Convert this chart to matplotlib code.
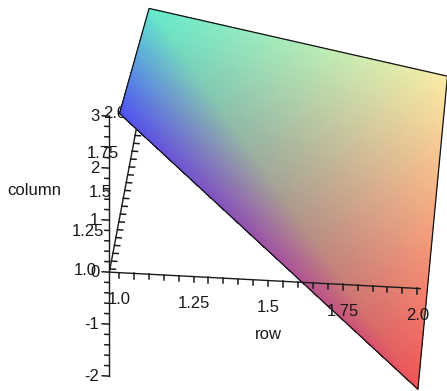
import numpy as np
import matplotlib
matplotlib.use("Agg")
import matplotlib.pyplot as plt
from mpl_toolkits.mplot3d import proj3d

# 2x2 matrix plotted by maple: values[row-1][col-1]
rows = [1, 2]
cols = [1, 2]
values = [[3, 2],
          [-2, 1]]
# vertex colours (same layout as values)
corner_rgb = [[(80, 82, 240), (100, 235, 205)],
              [(240, 82, 85), (250, 236, 165)]]

row_labels = ["1.0", "1.25", "1.5", "1.75", "2.0"]
col_labels = ["1.0", "1.25", "1.5", "1.75", "2.0"]
z_labels = ["-2", "-1", "0", "1", "2", "3"]

W, H = 447, 391
ink = "#1a1a1a"
plt.rcParams["font.family"] = ["Liberation Sans", "DejaVu Sans"]
fs = 12

# maple's axes cross a little outside the data box
r0, c0 = 0.968, 0.98

fig = plt.figure(figsize=(W / 100, H / 100), dpi=100)
ax = fig.add_axes([-0.5, -0.5, 2, 2], projection="3d", proj_type="ortho",
                  computed_zorder=False)
ax.view_init(elev=32.0, azim=-84.3, roll=0)
ax.set_xlim(rows[0], rows[-1])
ax.set_ylim(cols[0], cols[-1])
ax.set_zlim(-2, 3)
aspect = (300, 298, 306.7)
ax.set_box_aspect(aspect)
ax.set_axis_off()


# maple renders the cell as two triangles cut along the (1,2)-(2,1) diagonal
def two_triangles(q, u, v):
    q = np.asarray(q, dtype=float)
    if q.ndim == 3:
        u = u[..., None]
        v = v[..., None]
    lower = q[0, 0] + u * (q[1, 0] - q[0, 0]) + v * (q[0, 1] - q[0, 0])
    upper = q[1, 1] + (1 - u) * (q[0, 1] - q[1, 1]) + (1 - v) * (q[1, 0] - q[1, 1])
    return np.where(u + v <= 1, lower, upper)


n = 61
t = np.linspace(0, 1, n)
U, V = np.meshgrid(t, t, indexing="ij")
X = rows[0] + U * (rows[1] - rows[0])
Y = cols[0] + V * (cols[1] - cols[0])
Z = two_triangles(values, U, V)
h = 0.5 / (n - 1)
FC = two_triangles(corner_rgb, np.clip(U + h, 0, 1), np.clip(V + h, 0, 1)) / 255.0

# column axis sits behind the surface
ax.plot([r0, r0], [c0, 2], [0, 0], color=ink, lw=1, zorder=1)
for c in np.arange(1, 2.001, 0.05):
    ax.plot([r0, r0 + 0.018], [c, c], [0, 0], color=ink, lw=1.1, zorder=1)

ax.plot_surface(X, Y, Z, facecolors=FC, rstride=1, cstride=1, shade=False,
                linewidth=0, antialiased=False, zorder=2)

# outline of the cell
ox = [rows[0], rows[0], rows[1], rows[1], rows[0]]
oy = [cols[0], cols[1], cols[1], cols[0], cols[0]]
oz = [values[0][0], values[0][1], values[1][1], values[1][0], values[0][0]]
ax.plot(ox, oy, oz, color="#111111", lw=0.9, zorder=3)

# z axis on the left
ax.plot([r0, r0], [c0, c0], [-2, 3], color=ink, lw=1, zorder=4)
for z in np.arange(-2, 3.001, 0.2):
    major = abs(z - round(z)) < 1e-6
    ax.plot([r0 - (0.024 if major else 0.015), r0], [c0, c0], [z, z],
            color=ink, lw=1.1, zorder=4)

# row axis along the front
ax.plot([r0, 2.01], [c0, c0], [0, 0], color=ink, lw=1, zorder=4)
for r in np.arange(1, 2.001, 0.05):
    ax.plot([r, r], [c0, c0], [0, -0.1], color=ink, lw=1.1, zorder=4)


def screen(x, y, z):
    px, py, _ = proj3d.proj_transform(x, y, z, ax.M)
    return ax.transData.transform((px, py))


# fit the box so that the origin and z scale land where maple put them
fig.canvas.draw()
p0, p3 = screen(1, 1, 0), screen(1, 1, 3)
k = 3 * 52.0 / np.hypot(*(p3 - p0))
ax.set_box_aspect(aspect, zoom=k)
fig.canvas.draw()
p0 = screen(1, 1, 0)
pos = ax.get_position(original=True)
ax.set_position([pos.x0 + (119.5 - p0[0]) / W, pos.y0 + (H - 269.5 - p0[1]) / H,
                 pos.width, pos.height])
fig.canvas.draw()


def label(s, xyz, off, ha="center", zorder=5):
    ax.annotate(s, xy=screen(*xyz), xycoords="figure pixels", xytext=off,
                textcoords="offset pixels", ha=ha, va="center", fontsize=fs,
                color=ink, zorder=zorder)


for c, lab in zip(np.arange(1, 2.001, 0.25), col_labels):
    label(lab, (r0, c, 0), (-13, -2), ha="right", zorder=1)
for z, lab in zip(range(-2, 4), z_labels):
    label(lab, (r0, c0, z), (-10, 0), ha="right")
for r, lab in zip(np.arange(1, 2.001, 0.25), row_labels):
    label(lab, (r, c0, 0), (0, -27))
label("row", (1.5, c0, 0), (0, -54))
label("column", (r0, 1.5, 0), (-90, 0))

fig.savefig("out.png", dpi=100, facecolor="white")
